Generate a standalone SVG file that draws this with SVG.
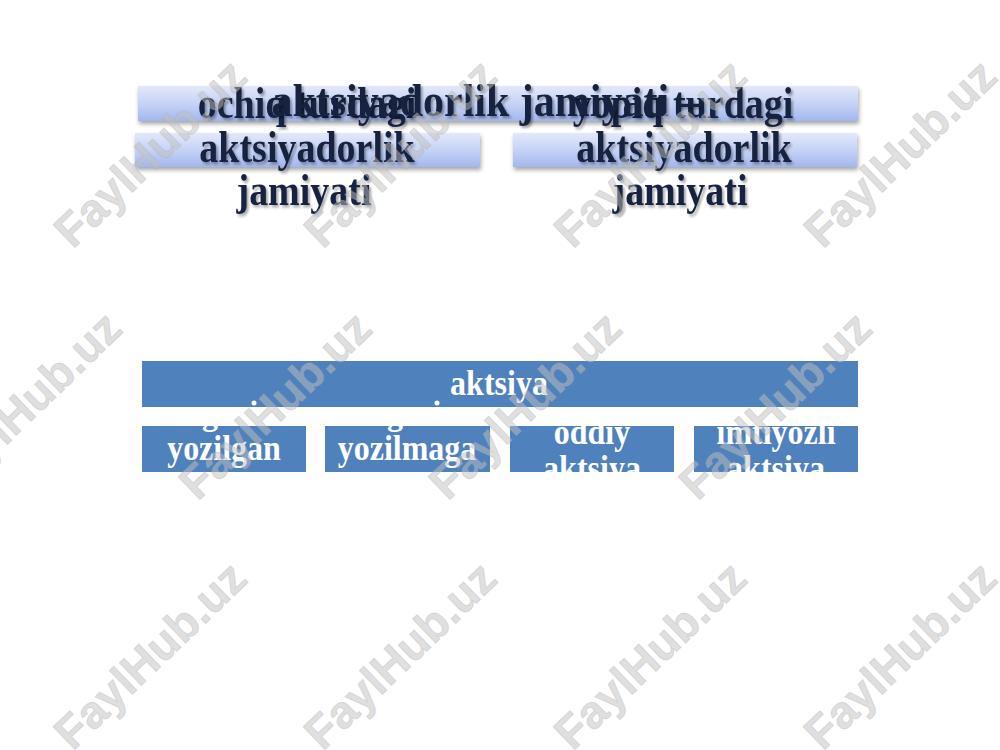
<svg xmlns="http://www.w3.org/2000/svg" width="1000" height="750" viewBox="0 0 1000 750">
<defs>
<linearGradient id="barGrad" x1="0" y1="0" x2="0" y2="1">
<stop offset="0" stop-color="#e3e9fb"/>
<stop offset="0.5" stop-color="#c6d3f6"/>
<stop offset="1" stop-color="#a3b7ee"/>
</linearGradient>
<filter id="barShadow" x="-5%" y="-30%" width="110%" height="170%">
<feDropShadow dx="1" dy="3" stdDeviation="2" flood-color="#000" flood-opacity="0.35"/>
</filter>
<filter id="txtShadow" x="-5%" y="-20%" width="110%" height="150%">
<feDropShadow dx="2" dy="2" stdDeviation="1.2" flood-color="#000" flood-opacity="0.35"/>
</filter>
</defs>
<style>
.bar{fill:url(#barGrad);filter:url(#barShadow);}
.dark{font-family:"Liberation Serif","Times New Roman",serif;font-weight:bold;fill:#17243f;text-anchor:middle;filter:url(#txtShadow);}
.box{fill:#4f81bd;}
.wt{font-family:"Liberation Serif","Times New Roman",serif;font-weight:bold;fill:#ffffff;text-anchor:middle;font-size:32px;}
.wm{font-family:"Liberation Sans",Arial,sans-serif;font-weight:bold;font-size:46px;fill:#bfbfbf;fill-opacity:0.5;stroke:#b0b0b0;stroke-opacity:0.35;stroke-width:1;text-anchor:middle;dominant-baseline:central;}
</style>
<rect width="1000" height="750" fill="#ffffff"/>

<g id="top-bars">
<rect class="bar" x="138" y="86" width="720" height="35"/>
<rect class="bar" x="135" y="133" width="345" height="34"/>
<rect class="bar" x="513" y="133" width="344" height="34"/>
</g>

<g id="node-ochiq">
<text class="dark" font-size="38" transform="translate(307,118) scale(1,1.15)">ochiq turdagi</text>
<text class="dark" font-size="38" transform="translate(307,162) scale(1,1.15)">aktsiyadorlik</text>
<text class="dark" font-size="38" transform="translate(304,205) scale(1,1.15)">jamiyati</text>
</g>
<g id="node-yopiq">
<text class="dark" font-size="38" transform="translate(683,118) scale(1,1.15)">yopiq turdagi</text>
<text class="dark" font-size="38" transform="translate(684,162) scale(1,1.15)">aktsiyadorlik</text>
<text class="dark" font-size="38" transform="translate(680,205) scale(1,1.15)">jamiyati</text>
</g>
<g id="node-title">
<text class="dark" font-size="42" transform="translate(486,116) scale(1,1.1)">aktsiyadorlik jamiyati –</text>
</g>

<g id="node-aktsiya">
<rect class="box" x="142" y="361" width="716" height="46"/>
<text class="wt" transform="translate(499,395) scale(1,1.15)">aktsiya</text>
<circle cx="254" cy="403" r="2.5" fill="#ffffff"/>
<circle cx="437" cy="403" r="2.5" fill="#ffffff"/>
</g>
<g id="node-yozilgan">
<rect class="box" x="142" y="426" width="164" height="46"/>
<text class="wt" x="210" y="425">g</text>
<text class="wt" transform="translate(224,460) scale(1,1.15)">yozilgan</text>
</g>
<g id="node-yozilmaga">
<rect class="box" x="325" y="426" width="165" height="46"/>
<text class="wt" x="395" y="425">g</text>
<text class="wt" transform="translate(407,460) scale(1,1.15)">yozilmaga</text>
</g>
<g id="node-oddiy">
<rect class="box" x="510" y="426" width="164" height="46"/>
<text class="wt" transform="translate(592,444) scale(1,1.15)">oddiy</text>
<text class="wt" transform="translate(592,480) scale(1,1.15)">aktsiya</text>
</g>
<g id="node-imtiyozli">
<rect class="box" x="694" y="426" width="164" height="46"/>
<text class="wt" transform="translate(776,444) scale(1,1.15)">imtiyozli</text>
<text class="wt" transform="translate(776,480) scale(1,1.15)">aktsiya</text>
</g>
<g id="connectors"/>

<g id="watermarks">
<text class="wm" transform="translate(150,153) rotate(-44)">FaylHub.uz</text>
<text class="wm" transform="translate(400,153) rotate(-44)">FaylHub.uz</text>
<text class="wm" transform="translate(650,153) rotate(-44)">FaylHub.uz</text>
<text class="wm" transform="translate(900,153) rotate(-44)">FaylHub.uz</text>
<text class="wm" transform="translate(25,405) rotate(-44)">FaylHub.uz</text>
<text class="wm" transform="translate(275,405) rotate(-44)">FaylHub.uz</text>
<text class="wm" transform="translate(525,405) rotate(-44)">FaylHub.uz</text>
<text class="wm" transform="translate(775,405) rotate(-44)">FaylHub.uz</text>
<text class="wm" transform="translate(150,655) rotate(-44)">FaylHub.uz</text>
<text class="wm" transform="translate(400,655) rotate(-44)">FaylHub.uz</text>
<text class="wm" transform="translate(650,655) rotate(-44)">FaylHub.uz</text>
<text class="wm" transform="translate(900,655) rotate(-44)">FaylHub.uz</text>
</g>
</svg>
